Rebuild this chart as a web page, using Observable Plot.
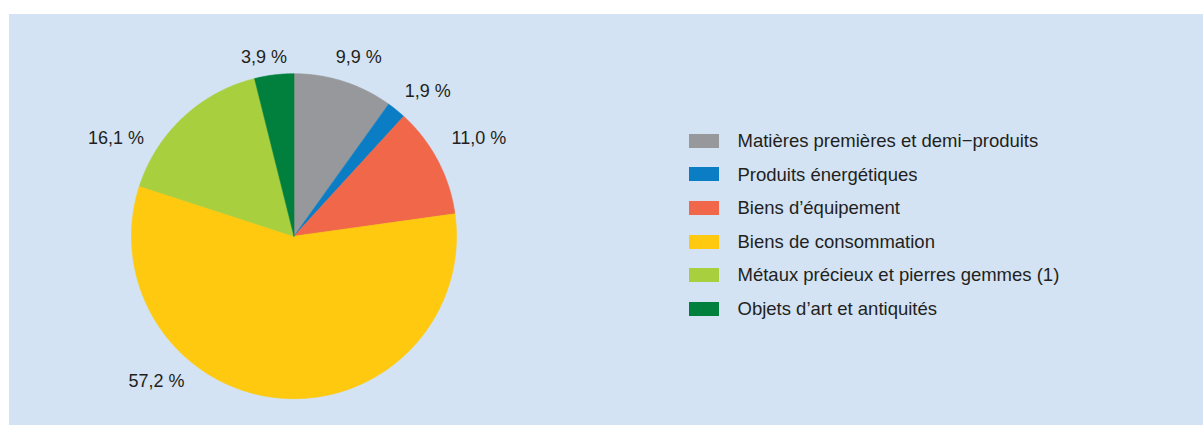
<!DOCTYPE html>
<html>
<head>
<meta charset="utf-8">
<script src="https://cdn.jsdelivr.net/npm/d3@7"></script>
<script src="https://cdn.jsdelivr.net/npm/@observablehq/plot@0.6"></script>
<style>
  html, body { margin: 0; padding: 0; background: #ffffff; }
  #wrap { position: relative; width: 1203px; height: 425px; overflow: hidden; }
  #panel { position: absolute; left: 9px; top: 14px; right: 0; bottom: 0; background: #d3e3f3; }
  #chart { position: absolute; left: 0; top: 0; }
  #legend { position: absolute; left: 689px; top: 124px; }
  .lg-swatch { height: 33.6px; padding: 0 !important; margin: 0 !important; }
  .lg-swatch > svg { margin-right: 18.5px !important; }
  .lg-swatch-label { line-height: 33.6px; }
</style>
</head>
<body>
<div id="wrap">
  <div id="panel"></div>
  <div id="chart"></div>
  <div id="legend"></div>
</div>
<script>
// ---- data ----
const categories = [
  "Matières premières et demi−produits",
  "Produits énergétiques",
  "Biens d’équipement",
  "Biens de consommation",
  "Métaux précieux et pierres gemmes (1)",
  "Objets d’art et antiquités"
];
const shares = [9.9, 1.9, 11.0, 57.2, 16.1, 3.9];

// ---- styles / layout ----
const colors = ["#97989b", "#0b7dc5", "#f0674a", "#fec90e", "#a8cf3e", "#007f3d"];
const W = 1203, H = 425;
const cx = 293.5, cy = 235.7, R = 162.5;
// label placement: angle nudge (deg) from slice mid-angle, and label radius
const labelNudge = [2.1, 3.7, -0.1, 38.4, -18.2, -2.5];
const labelRadius = [190, 197, 209, 200, 203, 181];
const font = "'Liberation Sans', Arial, Helvetica, sans-serif";

const rows = categories.map((c, i) => ({cat: c, value: shares[i]}));
const arcs = d3.pie().sort(null).value(d => d.value)(rows);

// slice outlines (polygon points along each arc)
const slicePts = [];
arcs.forEach(a => {
  const cat = a.data.cat;
  slicePts.push({cat, x: 0, y: 0});
  const n = Math.max(2, Math.ceil((a.endAngle - a.startAngle) / (Math.PI / 360)));
  for (let k = 0; k <= n; k++) {
    const t = a.startAngle + (a.endAngle - a.startAngle) * k / n;
    slicePts.push({cat, x: R * Math.sin(t), y: R * Math.cos(t)});
  }
  slicePts.push({cat, x: 0, y: 0});
});

const labels = arcs.map((a, i) => {
  const t = (a.startAngle + a.endAngle) / 2 + labelNudge[i] * Math.PI / 180;
  return {
    x: labelRadius[i] * Math.sin(t),
    y: labelRadius[i] * Math.cos(t),
    text: a.data.value.toFixed(1).replace(".", ",") + " %"
  };
});

const colorScale = {domain: categories, range: colors};

const chart = Plot.plot({
  width: W,
  height: H,
  margin: 0,
  style: {background: "transparent", fontFamily: font},
  x: {domain: [-cx, W - cx], axis: null},
  y: {domain: [cy - H, cy], axis: null},
  color: colorScale,
  marks: [
    Plot.line(slicePts, {x: "x", y: "y", z: "cat", fill: "cat", stroke: "cat", strokeWidth: 0.6, curve: "linear"}),
    Plot.text(labels, {x: "x", y: "y", text: "text", fontSize: 18, fill: "#231f20", textAnchor: "middle", lineAnchor: "middle"})
  ]
});
document.getElementById("chart").appendChild(chart);

const legend = Plot.legend({
  color: colorScale,
  legend: "swatches",
  columns: 1,
  swatchWidth: 30,
  swatchHeight: 14,
  className: "lg",
  style: {font: `18.5px ${font}`, color: "#231f20", background: "transparent"}
});
document.getElementById("legend").appendChild(legend);
</script>
</body>
</html>
